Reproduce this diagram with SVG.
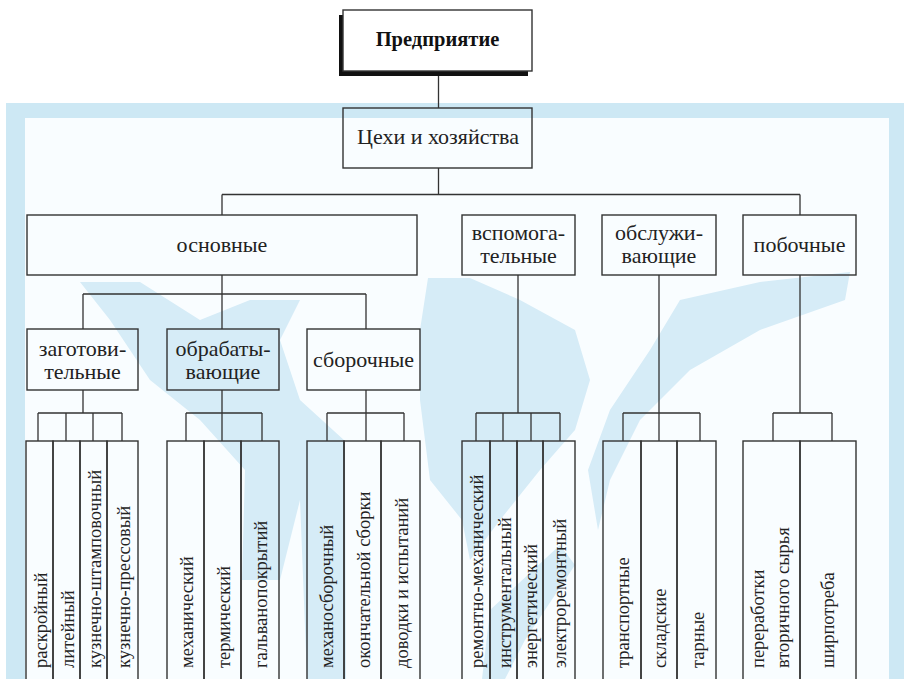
<svg xmlns="http://www.w3.org/2000/svg" width="904" height="679" viewBox="0 0 904 679">
<defs>
<style>
.ln{stroke:#333;stroke-width:1.3;fill:none}
.bx{fill:none;stroke:#333;stroke-width:1.4}
.t{font-size:22px;fill:#222;text-anchor:middle}
.v{font-size:18.5px;fill:#222}
.wm{fill:#d6ecf7}
</style>
</defs>
<rect x="0" y="0" width="904" height="679" fill="#ffffff"/>
<g id="background">
<rect x="6" y="103" width="898" height="576" fill="#cde8f4"/>
<rect x="25" y="118" width="864" height="561" fill="#f9fdff"/>
<path class="wm" d="M80,282 L140,282 L200,320 L250,300 L300,300 L280,340 L300,400 L345,441 L346,679 L307,679 L300,500 L280,580 L242,580 L245,470 L200,420 L150,380 L110,320 Z"/>
<path class="wm" d="M428,278 L470,278 L520,300 L575,330 L590,380 L575,430 L540,470 L500,520 L470,560 L462,520 L430,480 L420,400 L420,330 Z"/>
<path class="wm" d="M680,300 L760,282 L850,272 L845,300 L760,330 L690,370 L640,420 L610,480 L598,530 L588,470 L610,410 L650,350 Z"/>
<path class="wm" d="M490,610 L560,545 L575,565 L525,640 L505,679 L482,679 Z"/>
</g>
<g id="connectors">
<path class="ln" d="M438.5,71 V108 M438.5,168 V194.5 M222,194.5 H800 M222,194.5 V215 M800,194.5 V215"/>
<path class="ln" d="M222,275 V329 M83,294 H366 M83,294 V329 M366,294 V329"/>
<path class="ln" d="M83,390 V413 M38,413 H122 M38,413 V441 M66,413 V441 M93,413 V441 M122,413 V441"/>
<path class="ln" d="M222,390 V441 M186,413 H262 M186,413 V441 M262,413 V441"/>
<path class="ln" d="M366,390 V413 M327,413 H404 M327,413 V441 M366,413 V441 M404,413 V441"/>
<path class="ln" d="M518,275 V413 M476,413 H560 M476,413 V441 M503,413 V441 M531,413 V441 M560,413 V441"/>
<path class="ln" d="M659,275 V441 M623,413 H700 M623,413 V441 M700,413 V441"/>
<path class="ln" d="M800,275 V413 M773,413 H832 M773,413 V441 M832,413 V441"/>
</g>
<g font-family="Liberation Serif, Times New Roman, DejaVu Serif, serif">
<g id="n-enterprise">
<rect x="339" y="15" width="189" height="61" fill="#111"/>
<rect x="343" y="10" width="189" height="61" fill="#fff" stroke="#333" stroke-width="1.4"/>
<text x="437.5" y="46" font-size="20.5" font-weight="bold" fill="#111" text-anchor="middle">Предприятие</text>
</g>
<g id="n-shops">
<rect class="bx" x="343" y="108" width="189" height="60"/>
<text class="t" x="438" y="144">Цехи и хозяйства</text>
</g>
<g id="n-main">
<rect class="bx" x="27" y="215" width="390" height="60"/>
<text class="t" x="222" y="252">основные</text>
</g>
<g id="n-aux">
<rect class="bx" x="462" y="215" width="113" height="60"/>
<text class="t" x="518.5" y="240">вспомога-</text>
<text class="t" x="518.5" y="263">тельные</text>
</g>
<g id="n-service">
<rect class="bx" x="602" y="215" width="114" height="60"/>
<text class="t" x="659" y="240">обслужи-</text>
<text class="t" x="659" y="263">вающие</text>
</g>
<g id="n-side">
<rect class="bx" x="743" y="215" width="113" height="60"/>
<text class="t" x="799.5" y="252">побочные</text>
</g>
<g id="n-blank">
<rect class="bx" x="27" y="329" width="111" height="61"/>
<text class="t" x="82.5" y="356">заготови-</text>
<text class="t" x="82.5" y="379">тельные</text>
</g>
<g id="n-process">
<rect class="bx" x="167" y="329" width="112" height="61"/>
<text class="t" x="223" y="356">обрабаты-</text>
<text class="t" x="223" y="379">вающие</text>
</g>
<g id="n-assembly">
<rect class="bx" x="307" y="329" width="113" height="61"/>
<text class="t" x="363.5" y="367">сборочные</text>
</g>
<g id="c-raskroy"><rect class="bx" x="26" y="441" width="27" height="260"/><text class="v" transform="translate(46.5,668) rotate(-90)">раскройный</text></g>
<g id="c-liteyny"><rect class="bx" x="53" y="441" width="27" height="260"/><text class="v" transform="translate(73.5,668) rotate(-90)">литейный</text></g>
<g id="c-kuzn-shtamp"><rect class="bx" x="80" y="441" width="27" height="260"/><text class="v" transform="translate(100.5,668) rotate(-90)">кузнечно-штамповочный</text></g>
<g id="c-kuzn-press"><rect class="bx" x="107" y="441" width="31" height="260"/><text class="v" transform="translate(129.5,668) rotate(-90)">кузнечно-прессовый</text></g>
<g id="c-mech"><rect class="bx" x="167" y="441" width="37" height="260"/><text class="v" transform="translate(192.5,668) rotate(-90)">механический</text></g>
<g id="c-term"><rect class="bx" x="204" y="441" width="37" height="260"/><text class="v" transform="translate(229.5,668) rotate(-90)">термический</text></g>
<g id="c-galv"><rect class="bx" x="241" y="441" width="38" height="260"/><text class="v" transform="translate(267,668) rotate(-90)">гальванопокрытий</text></g>
<g id="c-mechsb"><rect class="bx" x="307" y="441" width="37" height="260"/><text class="v" transform="translate(332.5,668) rotate(-90)">механосборочный</text></g>
<g id="c-okonch"><rect class="bx" x="344" y="441" width="37" height="260"/><text class="v" transform="translate(369.5,668) rotate(-90)">окончательной сборки</text></g>
<g id="c-dovod"><rect class="bx" x="381" y="441" width="39" height="260"/><text class="v" transform="translate(407.5,668) rotate(-90)">доводки и испытаний</text></g>
<g id="c-remont"><rect class="bx" x="462" y="441" width="28" height="260"/><text class="v" transform="translate(483,668) rotate(-90)">ремонтно-механический</text></g>
<g id="c-instr"><rect class="bx" x="490" y="441" width="27" height="260"/><text class="v" transform="translate(510.5,668) rotate(-90)">инструментальный</text></g>
<g id="c-energ"><rect class="bx" x="517" y="441" width="26" height="260"/><text class="v" transform="translate(537,668) rotate(-90)">энергетический</text></g>
<g id="c-elrem"><rect class="bx" x="543" y="441" width="32" height="260"/><text class="v" transform="translate(566,668) rotate(-90)">электроремонтный</text></g>
<g id="c-transp"><rect class="bx" x="603" y="441" width="38" height="260"/><text class="v" transform="translate(629,668) rotate(-90)">транспортные</text></g>
<g id="c-sklad"><rect class="bx" x="641" y="441" width="36" height="260"/><text class="v" transform="translate(666,668) rotate(-90)">складские</text></g>
<g id="c-tar"><rect class="bx" x="677" y="441" width="39" height="260"/><text class="v" transform="translate(703.5,668) rotate(-90)">тарные</text></g>
<g id="c-pererab"><rect class="bx" x="743" y="441" width="57" height="260"/><text class="v" transform="translate(764,668) rotate(-90)">переработки</text><text class="v" transform="translate(789,668) rotate(-90)">вторичного сырья</text></g>
<g id="c-shirp"><rect class="bx" x="800" y="441" width="56" height="260"/><text class="v" transform="translate(834,668) rotate(-90)">ширпотреба</text></g>
</g>
</svg>
